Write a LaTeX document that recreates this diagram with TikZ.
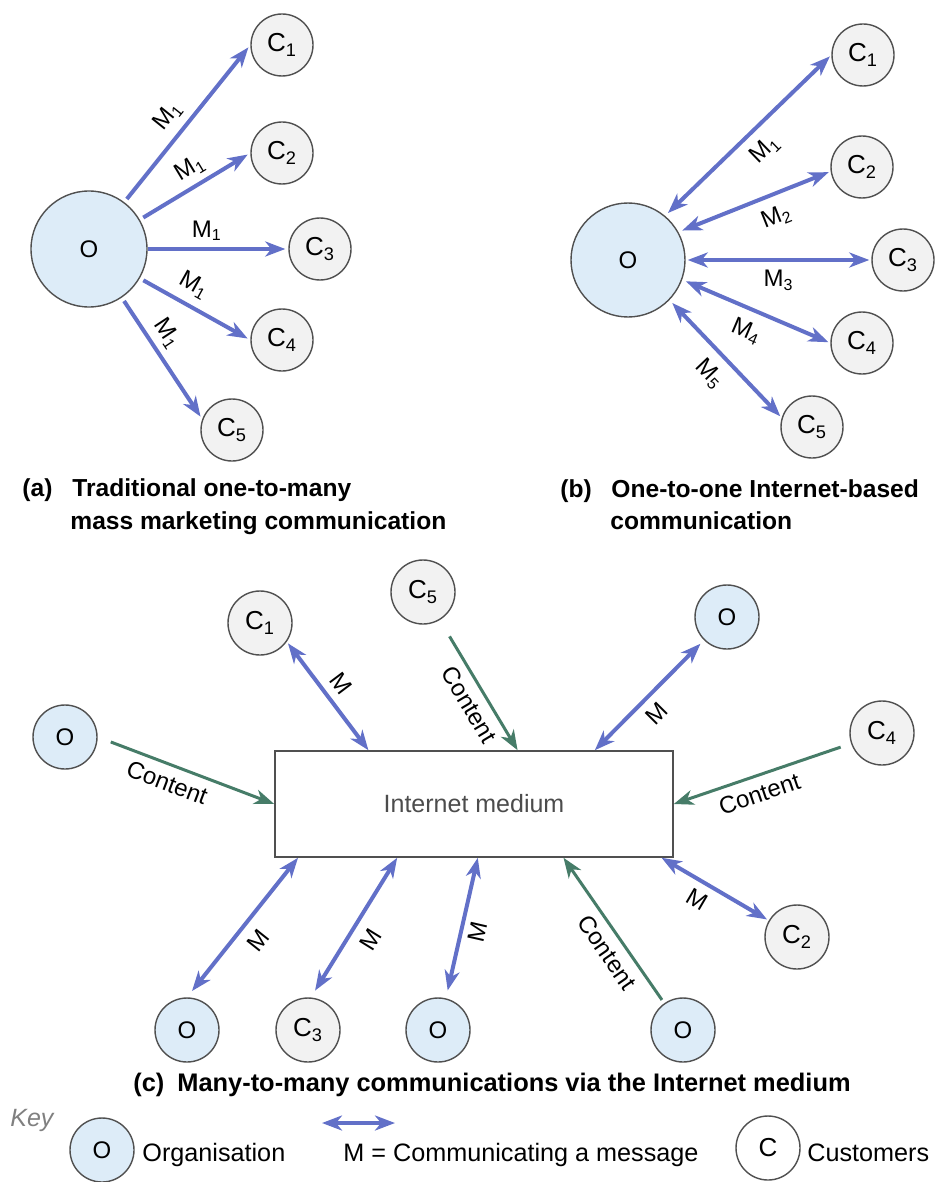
\documentclass[tikz,border=0pt]{standalone}
\usepackage{fontspec}
\setmainfont{Liberation Sans}
\usetikzlibrary{arrows.meta}

\definecolor{msgblue}{RGB}{98,112,200}
\definecolor{contgreen}{RGB}{70,124,104}
\definecolor{orgfill}{RGB}{221,236,248}
\definecolor{custfill}{RGB}{242,242,242}
\definecolor{rim}{RGB}{80,80,80}

\tikzset{
  org/.style={circle, draw=rim, line width=0.7pt, fill=orgfill, minimum size=#1,
    inner sep=0pt, font=\fontsize{12}{14}\selectfont},
  org/.default=32pt,
  cust/.style={circle, draw=rim, line width=0.7pt, fill=custfill, minimum size=31pt,
    inner sep=0pt, font=\fontsize{13}{15}\selectfont},
  msg/.style={draw=msgblue, line width=2pt},
  cont/.style={draw=contgreen, line width=1.5pt},
  lbl/.style={sloped, inner sep=1pt, font=\fontsize{12}{14}\selectfont},
  captxt/.style={anchor=base west, inner sep=0pt,
    font=\fontsize{12.3}{16.5}\selectfont\bfseries},
  keytext/.style={anchor=base west, inner sep=0pt, font=\fontsize{12.6}{15}\selectfont}
}

\begin{document}
\begin{tikzpicture}[x=0.5pt, y=-0.5pt,
  >={Stealth[length=10pt, width=7.5pt, inset=3pt]}]
\useasboundingbox (0,0) rectangle (943,1182);

% (a) one-to-many
\node[org=58pt] (aO) at (89,249) {O};
\node[cust] (aC1) at (282,45) {C\textsubscript{1}};
\node[cust] (aC2) at (282,153) {C\textsubscript{2}};
\node[cust] (aC3) at (320,249) {C\textsubscript{3}};
\node[cust] (aC4) at (282,340) {C\textsubscript{4}};
\node[cust] (aC5) at (232,430) {C\textsubscript{5}};

\draw[msg,->,shorten <=2pt,shorten >=1.5pt] (aO.53) -- (aC1.west) node[lbl,above=3pt,pos=0.47] {M\textsubscript{1}};
\draw[msg,->,shorten <=2pt,shorten >=1.5pt] (aO.30) -- (aC2.west) node[lbl,above=2pt,pos=0.54] {M\textsubscript{1}};
\draw[msg,->,shorten <=0pt,shorten >=1.5pt] (aO.east) -- (aC3.west) node[lbl,above=2pt,pos=0.42] {M\textsubscript{1}};
\draw[msg,->,shorten <=2pt,shorten >=1.5pt] (aO.-30) -- (aC4.west) node[lbl,above=3pt,pos=0.4] {M\textsubscript{1}};
\draw[msg,->,shorten <=2pt,shorten >=1.5pt] (aO.-56) -- (aC5.160) node[lbl,above=2pt,pos=0.38] {M\textsubscript{1}};

\node[captxt] (capa) at (22,496) {(a)};
\node[captxt] (capa1) at (72,496) {Traditional one-to-many};
\node[captxt] (capa2) at (70,529) {mass marketing communication};

% (b) one-to-one
\node[org=57pt] (bO) at (628,260) {O};
\node[cust] (bC1) at (863,55) {C\textsubscript{1}};
\node[cust] (bC2) at (862,167) {C\textsubscript{2}};
\node[cust] (bC3) at (903,260) {C\textsubscript{3}};
\node[cust] (bC4) at (862,343) {C\textsubscript{4}};
\node[cust] (bC5) at (812,427) {C\textsubscript{5}};

\draw[msg,<->,shorten <=2pt,shorten >=1pt] (bO.50) -- (bC1.west) node[lbl,below=4pt,pos=0.51] {M\textsubscript{1}};
\draw[msg,<->,shorten <=2pt,shorten >=1pt] (bO.29) -- (bC2.188) node[lbl,below=4pt,pos=0.59] {M\textsubscript{2}};
\draw[msg,<->,shorten <=1pt,shorten >=1pt] (bO.east) -- (bC3.west) node[lbl,below=3pt,pos=0.5] {M\textsubscript{3}};
\draw[msg,<->,shorten <=2pt,shorten >=1pt] (bO.-20) -- (bC4.west) node[lbl,below=4pt,pos=0.49] {M\textsubscript{4}};
\draw[msg,<->,shorten <=2pt,shorten >=1pt] (bO.-44) -- (bC5.163) node[lbl,below=4pt,pos=0.5] {M\textsubscript{5}};

\node[captxt] (capb) at (560,497) {(b)};
\node[captxt] (capb1) at (611,497) {One-to-one Internet-based};
\node[captxt] (capb2) at (610,529) {communication};

% (c) many-to-many
\node[draw=rim, line width=0.8pt, fill=white, minimum width=199pt, minimum height=53pt,
  text=black!70, font=\fontsize{12.5}{15}\selectfont] (net) at (474,804) {Internet medium};

\node[org] (cOl) at (65,737) {O};
\node[cust,minimum size=32pt] (cC1) at (260,623) {C\textsubscript{1}};
\node[cust,minimum size=32pt] (cC5) at (423,592) {C\textsubscript{5}};
\node[org] (cOt) at (727,617) {O};
\node[cust,minimum size=32pt] (cC4) at (882,733) {C\textsubscript{4}};
\node[org] (cOb1) at (187,1030) {O};
\node[cust,minimum size=32pt] (cC3) at (308,1030) {C\textsubscript{3}};
\node[org] (cOb2) at (438,1030) {O};
\node[org] (cOb3) at (683,1030) {O};
\node[cust,minimum size=32pt] (cC2) at (797,937) {C\textsubscript{2}};

\draw[cont,->,shorten <=7pt] (cOl.east) -- (net.west) node[lbl,below=3pt,pos=0.43] {Content};
\draw[msg,<->,shorten <=1pt] (cC1.-35) -- (net.153) node[lbl,above=3pt,pos=0.49] {M};
\draw[cont,->,shorten <=9.5pt] (cC5) -- (net.51) node[lbl,below=3pt,pos=0.58] {Content};
\draw[msg,<->,shorten >=2.5pt] (net.24) -- (cOt) node[lbl,below=3pt,pos=0.45] {M};
\draw[cont,<-,shorten >=5.5pt] (net.east) -- (cC4) node[lbl,below=3pt,pos=0.45] {Content};
\draw[msg,<->,shorten <=4pt] (cOb1.north) -- (net.197) node[lbl,below=4pt,pos=0.5] {M};
\draw[msg,<->,shorten <=4pt] (cC3.85) -- (net.215) node[lbl,below=4pt,pos=0.49] {M};
\draw[msg,<->,shorten <=4pt] (cOb2.76) -- (net.274) node[lbl,below=2pt,pos=0.5] {M};
\draw[cont,<-,shorten >=2pt] (net.329) -- (cOb3.125) node[lbl,below=3pt,pos=0.58] {Content};
\draw[msg,<->,shorten >=1pt] (net.344) -- (cC2) node[lbl,below=3pt,pos=0.42] {M};

\node[captxt, font=\fontsize{12.7}{16.5}\selectfont\bfseries] (capc) at (133,1091) {(c)};
\node[captxt, font=\fontsize{12.7}{16.5}\selectfont\bfseries] (capc1) at (177,1091) {Many-to-many communications via the Internet medium};

% key
\node[keytext, text=black!50, font=\fontsize{12.5}{15}\selectfont\itshape] (key) at (10,1126) {Key};
\node[org] (kO) at (102,1150) {O};
\node[keytext] (kOt) at (142,1161) {Organisation};
\coordinate (kl) at (322,1123);
\coordinate (kr) at (395,1123);
\draw[msg,<->] (kl) -- (kr);
\node[keytext] (kMt) at (343,1161) {M = Communicating a message};
\node[cust,minimum size=32pt,fill=white] (kC) at (768,1148) {C};
\node[keytext] (kCt) at (807,1161) {Customers};
\end{tikzpicture}
\end{document}
